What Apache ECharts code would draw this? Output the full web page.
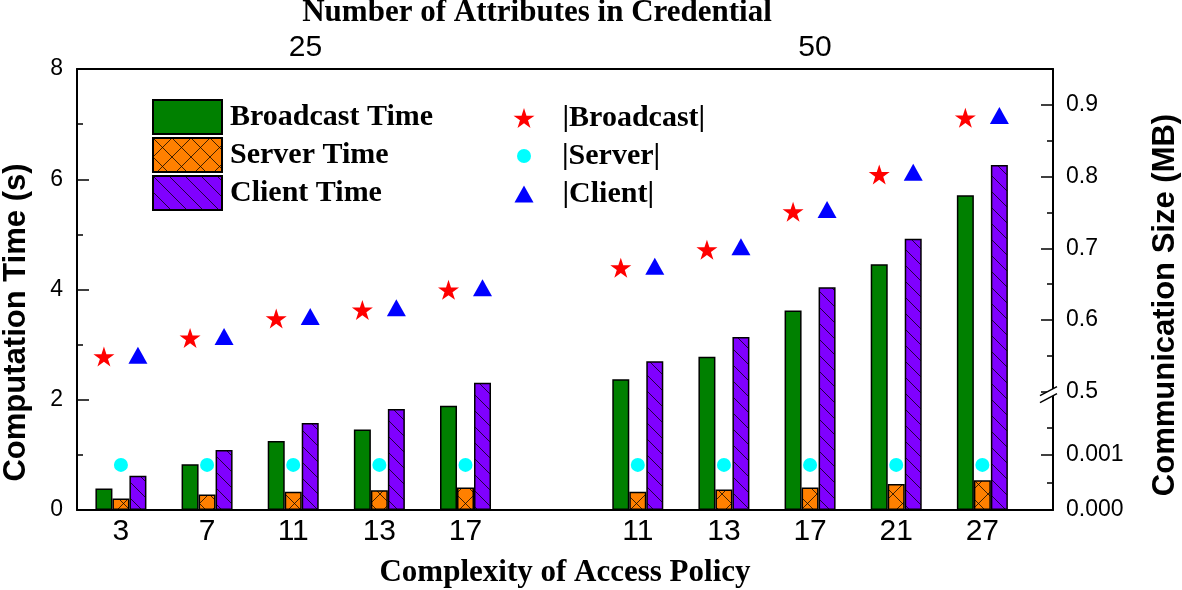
<!DOCTYPE html>
<html>
<head>
<meta charset="utf-8">
<script src="https://cdn.jsdelivr.net/npm/echarts@6/dist/echarts.min.js"></script>
<style>
  html, body { margin: 0; padding: 0; background: #fff; }
  #main { width: 1182px; height: 590px; }
</style>
</head>
<body>
<div id="main"></div>
<script>
// access policy complexity, one group per credential size
var policyA = ['3', '7', '11', '13', '17'];   // 25 attributes
var policyB = ['11', '13', '17', '21', '27']; // 50 attributes
var attributeCounts = [25, 50];

// computation time (s)
var broadcastTime = [0.39, 0.83, 1.25, 1.46, 1.89, 2.37, 2.78, 3.62, 4.46, 5.71];
var serverTime    = [0.21, 0.28, 0.33, 0.36, 0.41, 0.33, 0.37, 0.41, 0.47, 0.54];
var clientTime    = [0.62, 1.09, 1.58, 1.83, 2.31, 2.70, 3.14, 4.04, 4.92, 6.26];

// communication size (MB)
var broadcastSize = [0.549, 0.575, 0.602, 0.614, 0.642, 0.673, 0.698, 0.751, 0.803, 0.882];
var serverSize    = [0.00082, 0.00082, 0.00082, 0.00082, 0.00082, 0.00082, 0.00082, 0.00082, 0.00082, 0.00082];
var clientSize    = [0.551, 0.577, 0.605, 0.617, 0.645, 0.675, 0.702, 0.754, 0.806, 0.885];

// tick labels
var timeTicks = [0, 2, 4, 6, 8];
var sizeTicksHigh = [0.5, 0.6, 0.7, 0.8, 0.9];
var sizeTicksLow = [0, 0.001];

// x positions: groups side by side with one empty slot between
var xPos = policyA.map(function (c, i) { return i + 1; })
  .concat(policyB.map(function (c, i) { return i + policyA.length + 2; }));
var xLabels = policyA.concat(policyB);
function pairs(vals) {
  return vals.map(function (v, i) { return [xPos[i], v]; });
}

var sans = 'Liberation Sans, Arial, sans-serif';
var serif = 'Liberation Serif, Times New Roman, serif';
var X_MIN = 0.49, X_MAX = 11.82;

//hatch tiles for the bars
function hatch(bg, size, cross) {
  var c = document.createElement('canvas');
  c.width = size;
  c.height = size;
  var ctx = c.getContext('2d');
  ctx.fillStyle = bg;
  ctx.fillRect(0, 0, size, size);
  ctx.strokeStyle = 'rgba(0,0,0,0.75)';
  ctx.lineWidth = 1;
  ctx.beginPath();
  ctx.moveTo(0, 0);
  ctx.lineTo(size, size);
  if (cross) {
    ctx.moveTo(size, 0);
    ctx.lineTo(0, size);
  }
  ctx.stroke();
  return c;
}
var orangeFill = { image: hatch('#FF8000', 19, true), repeat: 'repeat' };
var purpleFill = { image: hatch('#8000FF', 16, false), repeat: 'repeat' };

var starPath = 'path://M50,0 L61.2,34.5 L97.6,34.5 L68.2,55.9 L79.4,90.5 L50,69.1 L20.6,90.5 L31.8,55.9 L2.4,34.5 L38.8,34.5 Z';

var black = { color: '#000', width: 2 };
var tickLine = { color: '#000', width: 1.5 };
var legendText = { fontFamily: serif, fontWeight: 'bold', fontSize: 30, color: '#000', lineHeight: 32 };

function sideLegend(name, w, h, rowCenter, pad) {
  return {
    data: [name], left: 524 - w / 2, top: rowCenter - 15, padding: 0,
    itemWidth: w, itemHeight: h,
    selectedMode: false,
    textStyle: Object.assign({ padding: [0, 0, 0, pad] }, legendText)
  };
}
function plotGrid(top, bottom) {
  return { left: 77, right: 129, top: top, bottom: bottom, outerBoundsMode: 'none', containLabel: false };
}

var mychart = echarts.init(document.getElementById('main'));
var option = {
  animation: false,
  backgroundColor: '#fff',
  grid: [plotGrid(69, 80), plotGrid(69, 198.3), plotGrid(391.7, 80)],
  legend: [
    {
      data: ['Broadcast Time', 'Server Time', 'Client Time'],
      orient: 'vertical', left: 152, top: 99, padding: 0,
      itemWidth: 69, itemHeight: 34, itemGap: 2,
      icon: 'rect', selectedMode: false,
      textStyle: Object.assign({ padding: [0, 0, 0, 3] }, legendText)
    },
    sideLegend('|Broadcast|', 21, 20, 117, 23),
    sideLegend('|Server|', 14, 14, 155, 26),
    sideLegend('|Client|', 19, 17, 193, 24)
  ],
  xAxis: [
    {
      gridIndex: 0, type: 'value', position: 'bottom', min: X_MIN, max: X_MAX,
      name: 'Complexity of Access Policy', nameLocation: 'middle', nameGap: 47,
      nameTextStyle: { fontFamily: serif, fontWeight: 'bold', fontSize: 31, color: '#000' },
      axisLine: { show: true, onZero: false, lineStyle: black },
      axisTick: { show: false },
      splitLine: { show: false },
      axisLabel: {
        customValues: xPos, fontFamily: sans, fontSize: 30, color: '#000', margin: 7,
        formatter: function (v) { return xLabels[xPos.indexOf(v)]; }
      }
    },
    {
      // number of attributes, on top
      gridIndex: 0, type: 'value', position: 'top', min: 13.79, max: 61.68,
      name: 'Number of Attributes in Credential', nameLocation: 'middle', nameGap: 34,
      nameTextStyle: { fontFamily: serif, fontWeight: 'bold', fontSize: 31, color: '#000', padding: [0, 56, 0, 0] },
      axisLine: { show: true, onZero: false, lineStyle: black },
      axisTick: { show: false },
      splitLine: { show: false },
      axisLabel: { customValues: attributeCounts, fontFamily: sans, fontSize: 30, color: '#000', margin: 6 }
    },
    { gridIndex: 1, type: 'value', min: X_MIN, max: X_MAX, show: false },
    { gridIndex: 2, type: 'value', min: X_MIN, max: X_MAX, show: false }
  ],
  yAxis: [
    {
      gridIndex: 0, type: 'value', position: 'left', min: 0, max: 8, interval: 2,
      name: 'Computation Time (s)', nameLocation: 'middle', nameGap: 45,
      nameTextStyle: { fontFamily: sans, fontWeight: 'bold', fontSize: 31, color: '#000', padding: [0, 66, 0, 0] },
      axisLine: { show: true, onZero: false, lineStyle: black },
      axisTick: { show: true, inside: true, length: 12, lineStyle: tickLine },
      minorTick: { show: true, splitNumber: 2, length: 6, lineStyle: tickLine },
      splitLine: { show: false },
      axisLabel: { fontFamily: sans, fontSize: 23, color: '#000', margin: 14 }
    },
    {
      // only carries the right-hand title
      gridIndex: 0, type: 'value', position: 'right', min: 0, max: 1,
      name: 'Communication Size (MB)', nameLocation: 'middle', nameGap: 97,
      nameTextStyle: { fontFamily: sans, fontWeight: 'bold', fontSize: 31, color: '#000', padding: [0, 31, 0, 0] },
      axisLine: { show: false }, axisTick: { show: false }, axisLabel: { show: false }, splitLine: { show: false }
    },
    {
      gridIndex: 1, type: 'value', position: 'right', min: 0.5, max: 0.95,
      axisLine: { show: true, onZero: false, lineStyle: black },
      axisTick: { show: true, inside: true, length: 12, customValues: sizeTicksHigh, lineStyle: tickLine },
      splitLine: { show: false },
      axisLabel: {
        customValues: sizeTicksHigh, fontFamily: sans, fontSize: 23, color: '#000', margin: 13,
        formatter: function (v) { return v.toFixed(1); }
      }
    },
    {
      gridIndex: 1, type: 'value', position: 'right', min: 0.5, max: 0.95,
      axisLine: { show: false }, axisLabel: { show: false }, splitLine: { show: false },
      axisTick: {
        show: true, inside: true, length: 6, lineStyle: tickLine,
        customValues: sizeTicksHigh.slice(1).map(function (v, i) { return (v + sizeTicksHigh[i]) / 2; })
      }
    },
    {
      gridIndex: 2, type: 'value', position: 'right', min: 0, max: 0.00215,
      axisLine: { show: true, onZero: false, lineStyle: black },
      axisTick: { show: true, inside: true, length: 12, customValues: sizeTicksLow, lineStyle: tickLine },
      splitLine: { show: false },
      axisLabel: {
        customValues: sizeTicksLow, fontFamily: sans, fontSize: 23, color: '#000', margin: 13,
        formatter: function (v) { return v.toFixed(3); }
      }
    },
    {
      gridIndex: 2, type: 'value', position: 'right', min: 0, max: 0.00215,
      axisLine: { show: false }, axisLabel: { show: false }, splitLine: { show: false },
      axisTick: {
        show: true, inside: true, length: 6, lineStyle: tickLine,
        customValues: sizeTicksLow.map(function (v) { return v + 0.0005; })
      }
    }
  ],
  series: [
    {
      name: 'Broadcast Time', type: 'bar', xAxisIndex: 0, yAxisIndex: 0,
      barWidth: 17, barGap: '0%', data: pairs(broadcastTime),
      itemStyle: { color: '#008000', borderColor: '#000', borderWidth: 1.5 }
    },
    {
      name: 'Server Time', type: 'bar', xAxisIndex: 0, yAxisIndex: 0,
      barWidth: 17, barGap: '0%', data: pairs(serverTime),
      itemStyle: { color: orangeFill, borderColor: '#000', borderWidth: 1.5 }
    },
    {
      name: 'Client Time', type: 'bar', xAxisIndex: 0, yAxisIndex: 0,
      barWidth: 17, barGap: '0%', data: pairs(clientTime),
      itemStyle: { color: purpleFill, borderColor: '#000', borderWidth: 1.5 }
    },
    {
      name: '|Broadcast|', type: 'scatter', xAxisIndex: 2, yAxisIndex: 2,
      symbol: starPath, symbolSize: [21, 20], symbolOffset: [-17, 0],
      itemStyle: { color: '#FF0000', opacity: 1 }, data: pairs(broadcastSize), z: 5
    },
    {
      name: '|Server|', type: 'scatter', xAxisIndex: 3, yAxisIndex: 4,
      symbol: 'circle', symbolSize: 14,
      itemStyle: { color: '#00FFFF', opacity: 1 }, data: pairs(serverSize), z: 5
    },
    {
      name: '|Client|', type: 'scatter', xAxisIndex: 2, yAxisIndex: 2,
      symbol: 'triangle', symbolSize: [19, 17], symbolOffset: [17, 0],
      itemStyle: { color: '#0000FF', opacity: 1 }, data: pairs(clientSize), z: 5
    }
  ]
};
mychart.setOption(option);

//break marks on the right axis at 0.5
var p = mychart.convertToPixel({ gridIndex: 1 }, [X_MAX, sizeTicksHigh[0]]);
var bx = p[0], by = p[1] + 3;
mychart.setOption({
  graphic: [
    {
      type: 'polygon', z: 100,
      shape: { points: [[bx - 13, by + 1], [bx + 4, by - 8], [bx + 4, by - 1], [bx - 13, by + 8]] },
      style: { fill: '#fff' }
    },
    {
      type: 'line', z: 101,
      shape: { x1: bx - 13, y1: by + 1, x2: bx + 4, y2: by - 8 },
      style: { stroke: '#000', lineWidth: 1.5 }
    },
    {
      type: 'line', z: 101,
      shape: { x1: bx - 13, y1: by + 8, x2: bx + 4, y2: by - 1 },
      style: { stroke: '#000', lineWidth: 1.5 }
    }
  ]
});
</script>
</body>
</html>
